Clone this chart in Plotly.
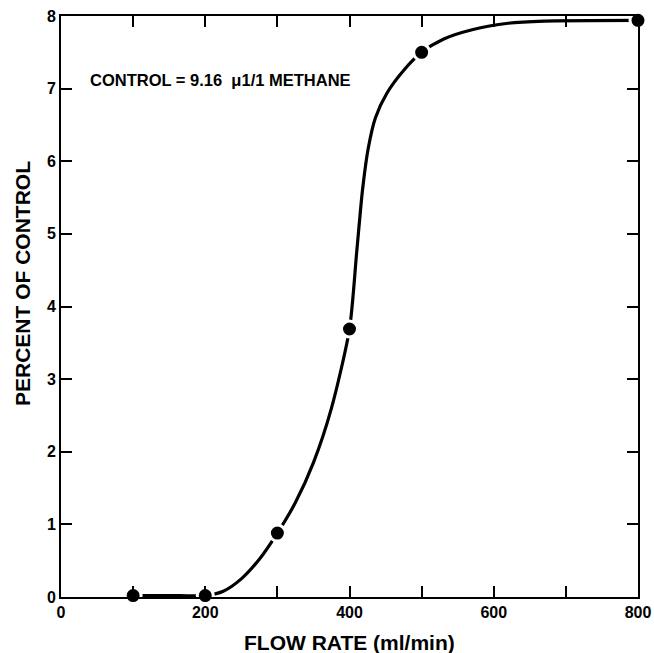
import plotly.graph_objects as go

# Measured points
flow = [100, 200, 300, 400, 500, 800]
pct = [0.02, 0.02, 0.88, 3.69, 7.50, 7.94]

# Hand-drawn smooth curve
curve_x = [100, 150, 200, 225, 250, 275, 300, 325, 350, 375, 400, 410, 418, 426, 436, 452, 475, 500, 530, 570, 620, 670, 800]
curve_y = [0.02, 0.02, 0.02, 0.08, 0.25, 0.52, 0.88, 1.30, 1.85, 2.60, 3.69, 4.75, 5.60, 6.18, 6.60, 6.94, 7.25, 7.50, 7.68, 7.81, 7.90, 7.93, 7.94]

x_ticks = [0, 100, 200, 300, 400, 500, 600, 700, 800]
x_labels = ["0", "", "200", "", "400", "", "600", "", "800"]
y_ticks = [0, 1, 2, 3, 4, 5, 6, 7, 8]

font_family = "Liberation Sans, Arial, sans-serif"

fig = go.Figure()
fig.add_trace(go.Scatter(
    x=curve_x, y=curve_y, mode="lines",
    line=dict(color="black", width=3.2, shape="spline", smoothing=0.7),
    hoverinfo="skip", showlegend=False,
))
fig.add_trace(go.Scatter(
    x=flow, y=pct, mode="markers",
    marker=dict(color="black", size=16, line=dict(color="white", width=3)),
    showlegend=False, cliponaxis=False,
))

fig.add_annotation(
    x=37, y=7.12, xref="x", yref="y", xanchor="left", yanchor="middle",
    text="CONTROL = 9.16  \u03bc1/1 METHANE", showarrow=False,
    font=dict(family=font_family, size=16.5, color="black", weight="bold"),
)
fig.add_annotation(
    x=-0.068, y=0.54, xref="paper", yref="paper", xanchor="center", yanchor="middle",
    text="PERCENT OF CONTROL", textangle=-90, showarrow=False,
    font=dict(family=font_family, size=21, color="black", weight="bold"),
)
fig.add_annotation(
    x=0.5, y=-0.079, xref="paper", yref="paper", xanchor="center", yanchor="middle",
    text="FLOW RATE (ml/min)", showarrow=False,
    font=dict(family=font_family, size=21, color="black", weight="bold"),
)

axis_common = dict(
    showline=True, linecolor="black", linewidth=2, mirror="ticks",
    ticks="inside", ticklen=11, tickwidth=1.5, tickcolor="black",
    showgrid=False, zeroline=False, automargin=False,
    tickfont=dict(family=font_family, size=16, color="black", weight="bold"),
)

fig.update_xaxes(range=[0, 800], tickvals=x_ticks, ticktext=x_labels, **axis_common)
fig.update_yaxes(range=[0, 8], tickvals=y_ticks, **axis_common)

fig.update_layout(
    width=654, height=653,
    margin=dict(l=61, r=16, t=16, b=56),
    paper_bgcolor="white", plot_bgcolor="white",
)

fig.write_html(
    "out.html",
    config={"displayModeBar": False},
    post_script="document.body.style.margin='0';document.body.style.overflow='hidden';",
)
